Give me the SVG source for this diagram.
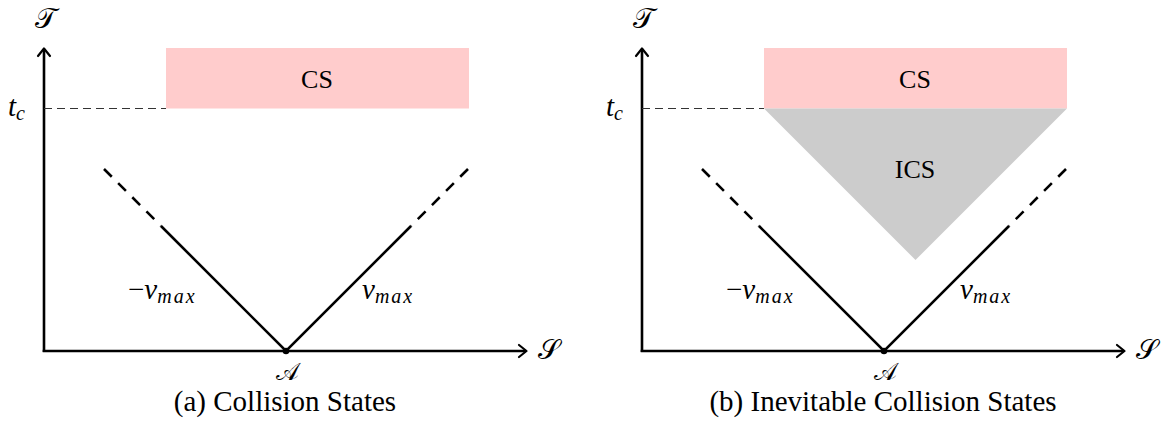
<svg xmlns="http://www.w3.org/2000/svg" width="1166" height="424" viewBox="0 0 1166 424">
<style>
.axis{stroke:#000;stroke-width:2.6;fill:none}
.arr{stroke:#000;stroke-width:2.2;fill:none;stroke-linecap:round;stroke-linejoin:round}
.vs{stroke:#000;stroke-width:2.6;fill:none}
.vd{stroke:#000;stroke-width:2.6;fill:none;stroke-dasharray:11 9}
.tc{stroke:#333;stroke-width:1.1;fill:none;stroke-dasharray:8 5}
.cs{fill:#FFCCCC}
.ics{fill:#CCCCCC}
.rm{font-family:'Liberation Serif',serif;fill:#000}
.it{font-family:'Liberation Serif',serif;font-style:italic;fill:#000}
.cal{font-family:'DejaVu Serif',serif;fill:#000}
</style>
<g id="panel-a">
  <g id="a-cs">
    <rect class="cs" x="166" y="48" width="303" height="60.5"/>
    <text class="rm" x="317" y="88" font-size="26" text-anchor="middle">CS</text>
  </g>
  <g id="a-axes">
    <line class="axis" x1="44" y1="352" x2="44" y2="49"/>
    <polyline class="arr" points="38,56 44,48.5 50,56"/>
    <line class="axis" x1="42.7" y1="351" x2="526" y2="351"/>
    <polyline class="arr" points="519,345 526.5,351 519,357"/>
    <text class="cal" x="45" y="28" font-size="28" text-anchor="middle">𝒯</text>
    <text class="cal" x="549" y="359" font-size="28" text-anchor="middle">𝒮</text>
    <text class="cal" x="287" y="380" font-size="24" text-anchor="middle">𝒜</text>
    <text class="it" x="8" y="116" font-size="29">t<tspan font-size="20" dy="4">c</tspan></text>
  </g>
  <g id="a-connectors">
    <line class="tc" x1="44" y1="108.5" x2="166" y2="108.5"/>
    <polyline class="vs" points="161,226 286,351 411,226"/>
    <line class="vd" x1="104" y1="169" x2="161" y2="226"/>
    <line class="vd" x1="468" y1="169" x2="411" y2="226"/>
    <circle cx="286" cy="351" r="3.3" fill="#000"/>
  </g>
  <text class="rm" x="128" y="299" font-size="29">−<tspan class="it">v</tspan><tspan class="it" font-size="20" dy="4" letter-spacing="2">max</tspan></text>
  <text class="it" x="362" y="299" font-size="29">v<tspan font-size="20" dy="4" letter-spacing="2">max</tspan></text>
  <text class="rm" x="285" y="411" font-size="29" text-anchor="middle">(a) Collision States</text>
</g>
<g id="panel-b">
  <g id="b-cs">
    <rect class="cs" x="764" y="48" width="303" height="60.5"/>
    <text class="rm" x="915" y="88" font-size="26" text-anchor="middle">CS</text>
  </g>
  <g id="b-ics">
    <polygon class="ics" points="764,108.5 1067,108.5 915.5,260"/>
    <text class="rm" x="915" y="178" font-size="26" text-anchor="middle">ICS</text>
  </g>
  <g id="b-axes">
    <line class="axis" x1="642" y1="352" x2="642" y2="49"/>
    <polyline class="arr" points="636,56 642,48.5 648,56"/>
    <line class="axis" x1="640.7" y1="351" x2="1124" y2="351"/>
    <polyline class="arr" points="1117,345 1124.5,351 1117,357"/>
    <text class="cal" x="643" y="28" font-size="28" text-anchor="middle">𝒯</text>
    <text class="cal" x="1147" y="359" font-size="28" text-anchor="middle">𝒮</text>
    <text class="cal" x="885" y="380" font-size="24" text-anchor="middle">𝒜</text>
    <text class="it" x="606" y="116" font-size="29">t<tspan font-size="20" dy="4">c</tspan></text>
  </g>
  <g id="b-connectors">
    <line class="tc" x1="642" y1="108.5" x2="764" y2="108.5"/>
    <polyline class="vs" points="759,226 884,351 1009,226"/>
    <line class="vd" x1="702" y1="169" x2="759" y2="226"/>
    <line class="vd" x1="1066" y1="169" x2="1009" y2="226"/>
    <circle cx="884" cy="351" r="3.3" fill="#000"/>
  </g>
  <text class="rm" x="726" y="299" font-size="29">−<tspan class="it">v</tspan><tspan class="it" font-size="20" dy="4" letter-spacing="2">max</tspan></text>
  <text class="it" x="960" y="299" font-size="29">v<tspan font-size="20" dy="4" letter-spacing="2">max</tspan></text>
  <text class="rm" x="883" y="411" font-size="29" text-anchor="middle">(b) Inevitable Collision States</text>
</g>
</svg>
